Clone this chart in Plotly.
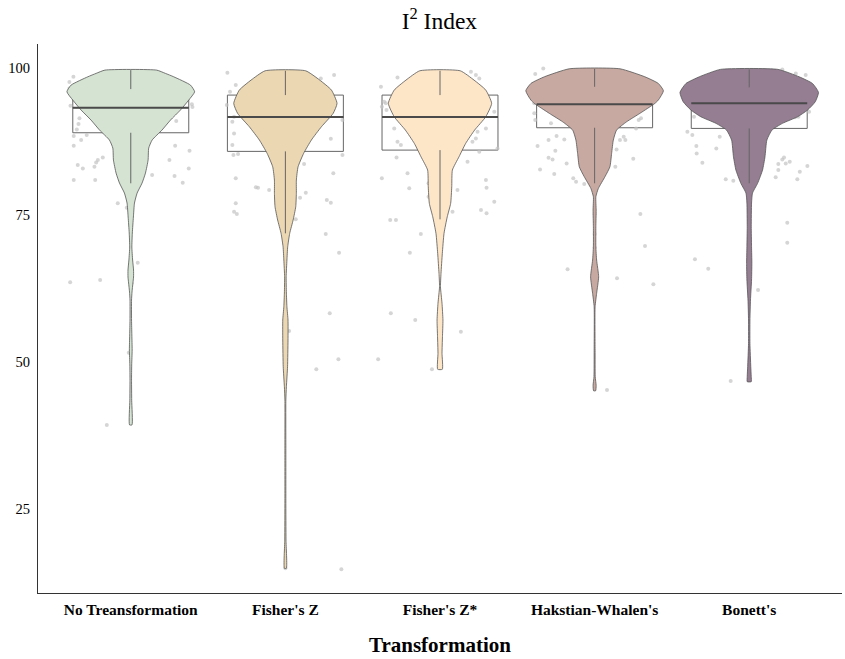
import plotly.graph_objects as go

# ---------------- data ----------------
categories = ["No Treansformation", "Fisher's Z", "Fisher's Z*", "Hakstian-Whalen's", "Bonett's"]

# violin density profile: value levels (top -> bottom) and half-width (category units)
lev_no = [99.66, 99.1, 98.52, 97.11, 95.97, 94.56, 92.86, 91.16, 89.46, 87.76, 86.39, 84.35,
          82.14, 80.44, 78.74, 77.04, 74.66, 71.94, 69.56, 67.35, 65.65, 64.46, 63.44, 61.9,
          60.54, 57.14, 54.6, 52.04, 49.5, 46.9, 43.5, 39.3]
hw_no = [0.167, 0.224, 0.278, 0.386, 0.413, 0.375, 0.321, 0.257, 0.202, 0.138, 0.116, 0.112,
         0.095, 0.073, 0.041, 0.024, 0.017, 0.010, 0.007, 0.012, 0.018, 0.018, 0.014, 0.008,
         0.005, 0.005, 0.007, 0.009, 0.006, 0.005, 0.006, 0.008]

lev_fz = [99.54, 97.96, 96.26, 94.0, 92.3, 90.02, 87.76, 85.49, 83.21, 80.95, 78.69, 76.41,
          74.15, 71.89, 69.61, 67.35, 64.5, 61.73, 59.4, 57.14, 53.74, 49.2, 45.8, 43.54,
          35.0, 26.5, 19.7, 14.9]
hw_fz = [0.131, 0.222, 0.298, 0.334, 0.309, 0.233, 0.168, 0.118, 0.082, 0.071, 0.071, 0.067,
         0.050, 0.028, 0.015, 0.010, 0.005, 0.0065, 0.010, 0.017, 0.017, 0.014, 0.0065, 0.003,
         0.003, 0.003, 0.004, 0.0065]

lev_fzs = [99.54, 97.96, 96.26, 94.0, 91.72, 89.46, 87.19, 84.92, 82.65, 79.81, 76.99, 74.71,
           71.89, 68.48, 65.08, 62.81, 59.99, 57.14, 54.31, 51.48, 48.76]
hw_fzs = [0.131, 0.220, 0.296, 0.334, 0.296, 0.224, 0.166, 0.123, 0.080, 0.076, 0.069, 0.047,
          0.026, 0.015, 0.0065, 0.003, 0.013, 0.019, 0.016, 0.013, 0.015]

lev_hw = [99.88, 98.52, 97.39, 96.14, 94.56, 94.0, 92.3, 90.87, 89.46, 87.76, 85.49, 83.21,
          81.52, 79.52, 78.11, 75.85, 73.01, 69.61, 67.35, 64.5, 61.67, 59.4, 52.0, 47.5, 46.0, 45.1]
hw_hw = [0.164, 0.325, 0.412, 0.445, 0.412, 0.390, 0.293, 0.207, 0.142, 0.121, 0.110, 0.099,
         0.067, 0.024, 0.008, 0.010, 0.008, 0.008, 0.013, 0.026, 0.013, 0.003, 0.003, 0.004,
         0.010, 0.0065]

lev_bo = [99.78, 98.52, 97.39, 95.86, 94.27, 92.86, 91.72, 90.6, 89.46, 87.76, 84.92, 82.65,
          80.39, 78.74, 77.04, 73.01, 69.61, 66.78, 63.95, 60.54, 57.14, 53.17, 49.2, 47.5, 46.65]
hw_bo = [0.186, 0.323, 0.409, 0.448, 0.427, 0.377, 0.313, 0.215, 0.147, 0.114, 0.102, 0.086,
         0.054, 0.021, 0.015, 0.013, 0.015, 0.017, 0.015, 0.008, 0.0045, 0.0045, 0.010, 0.013,
         0.013]

violin_levels = [lev_no, lev_fz, lev_fzs, lev_hw, lev_bo]
violin_halfwidths = [hw_no, hw_fz, hw_fzs, hw_hw, hw_bo]

# box plot statistics
box_q1 = [89.0, 85.83, 86.05, 89.85, 89.74]
box_median = [93.25, 91.67, 91.67, 93.83, 94.0]
box_q3 = [96.43, 95.41, 95.41, 96.82, 96.72]
whisker_low = [80.4, 71.89, 74.27, 80.4, 80.4]
whisker_high = [99.66, 99.54, 99.54, 99.88, 99.78]

# jittered observations (value, horizontal jitter in category units)
pts_val_no = [98.52, 97.62, 96.55, 93.59, 91.45, 90.48, 89.57, 88.44, 87.76, 88.61, 86.79, 84.35,
              83.96, 84.81, 83.5, 82.94, 83.21, 80.95, 80.95, 86.79, 85.94, 84.35, 82.94, 81.8,
              81.63, 80.49, 93.83, 93.37, 90.99, 76.99, 76.87, 76.41, 76.24, 63.55, 63.95, 66.89,
              51.58, 39.29, 64.8, 63.4]
pts_jit_no = [-0.371, -0.397, -0.397, -0.39, -0.332, -0.338, -0.349, -0.369, -0.321, -0.285, -0.369,
              -0.213, -0.224, -0.181, -0.343, -0.31, -0.235, -0.369, -0.23, 0.287, 0.38, 0.25, 0.375,
              0.138, 0.283, 0.336, 0.395, 0.399, 0.294, -0.084, -0.008, 0.003, -0.026, -0.392,
              -0.198, 0.045, -0.013, -0.155, 0.0, 0.005]

pts_val_fz = [99.2, 97.11, 95.97, 93.71, 91.72, 90.87, 88.89, 86.9, 85.37, 85.2, 81.24, 79.71,
              79.64, 79.25, 76.99, 75.56, 75.17, 83.67, 78.79, 77.94, 74.27, 77.55, 77.09, 71.77,
              68.59, 82.09, 85.2, 87.98, 98.81, 98.25, 91.16, 58.28, 50.46, 48.76, 55.44, 55.27,
              57.14, 52.04, 14.74, 14.9]
pts_jit_fz = [-0.375, -0.321, -0.358, -0.379, -0.332, -0.343, -0.332, -0.343, -0.306, -0.336,
              -0.321, -0.191, -0.177, -0.105, -0.321, -0.332, -0.314, 0.121, 0.132, 0.095, 0.067,
              0.268, 0.294, 0.261, 0.347, 0.31, 0.369, 0.294, 0.315, 0.229, 0.369, 0.287, 0.343,
              0.2, 0.003, 0.024, 0.0, 0.0, 0.362, 0.0]

pts_val_fzs = [98.42, 96.55, 95.02, 96.82, 94.27, 94.0, 93.42, 92.86, 89.74, 87.47, 86.9, 88.61,
               86.34, 84.81, 82.09, 81.24, 79.54, 80.39, 78.11, 74.15, 74.15, 71.77, 68.59, 58.28,
               57.14, 50.46, 48.76, 55.15, 99.37, 98.81, 98.25, 92.57, 89.74, 89.17, 88.04, 87.47,
               85.77, 84.06, 80.95, 79.64, 79.25, 77.26, 75.85, 75.29, 75.56, 86.34, 71.77, 58.28,
               56.58, 55.15, 50.34]
pts_jit_fzs = [-0.275, -0.139, -0.253, -0.382, -0.361, -0.35, -0.376, -0.346, -0.296, -0.275,
               -0.253, -0.156, -0.113, -0.281, -0.21, -0.376, -0.199, -0.074, -0.074, -0.322,
               -0.285, -0.124, -0.195, -0.318, -0.16, -0.4, -0.052, 0.135, 0.2, 0.232, 0.254,
               0.351, 0.297, 0.243, 0.232, 0.21, 0.254, 0.178, 0.297, 0.301, 0.113, 0.351, 0.265,
               0.301, 0.081, 0.372, 0.0, 0.0, 0.0, 0.0, 0.0]

pts_val_hw = [98.98, 99.95, 94.0, 92.3, 91.16, 90.6, 88.44, 87.87, 87.76, 85.94, 86.73, 84.74,
              84.47, 83.79, 82.77, 81.97, 81.24, 80.66, 80.27, 65.77, 64.23, 63.21, 75.17, 69.73,
              45.24, 84.59, 83.21, 86.17, 87.76, 87.76, 88.32, 89.74, 91.16, 91.45, 75.17, 71.77,
              69.5, 65.6, 64.2, 62.8]
pts_jit_hw = [-0.384, -0.332, -0.39, -0.39, -0.384, -0.282, -0.246, -0.196, -0.298, -0.254,
              -0.369, -0.298, -0.272, -0.181, -0.353, -0.261, -0.138, -0.12, -0.067, -0.175, 0.145,
              0.38, 0.296, 0.326, 0.08, 0.25, 0.134, 0.142, 0.164, 0.199, 0.188, 0.268, 0.285, 0.3,
              0.0, 0.0, 0.0, 0.0, 0.0, 0.0]

pts_val_bo = [89.17, 88.61, 86.73, 85.49, 83.89, 86.34, 88.32, 91.72, 81.07, 80.83, 67.47, 65.87,
              46.77, 62.24, 73.69, 70.29, 99.78, 99.1, 98.81, 92.57, 91.72, 91.62, 84.47, 84.81,
              83.67, 84.06, 83.79, 82.65, 83.33, 82.36, 81.07, 81.41, 74.6, 71.2, 68.4, 67.0]
pts_jit_bo = [-0.4, -0.368, -0.342, -0.34, -0.303, -0.213, -0.191, -0.357, -0.152, -0.103, -0.351,
              -0.265, -0.12, 0.057, 0.246, 0.246, 0.214, 0.301, 0.365, 0.387, 0.318, 0.296, 0.214,
              0.225, 0.188, 0.262, 0.236, 0.188, 0.376, 0.327, 0.311, 0.171, 0.0, 0.0, 0.0, 0.0]

point_values = [pts_val_no, pts_val_fz, pts_val_fzs, pts_val_hw, pts_val_bo]
point_jitter = [pts_jit_no, pts_jit_fz, pts_jit_fzs, pts_jit_hw, pts_jit_bo]

y_ticks = [25, 50, 75, 100]

# ---------------- styling ----------------
violin_colors = ["#d4e3d2", "#ebd7b2", "#fde5c8", "#c7a9a1", "#957d92"]
FONT = "Liberation Serif, Times New Roman, serif"
BOX_WIDTH = 0.75
GRAY = "#666666"

fig = go.Figure()

# jittered points (beneath the violins)
for i, (vals, jit) in enumerate(zip(point_values, point_jitter)):
    fig.add_trace(go.Scatter(
        x=[i + j for j in jit], y=vals, mode="markers",
        marker=dict(size=4.0, color="rgba(195,195,195,0.7)", line=dict(width=0)),
        hoverinfo="skip", showlegend=False))

# violins
for i, (lev, hw) in enumerate(zip(violin_levels, violin_halfwidths)):
    xs = [i + w for w in hw] + [i - w for w in reversed(hw)] + [i + hw[0]]
    ys = list(lev) + list(reversed(lev)) + [lev[0]]
    fig.add_trace(go.Scatter(
        x=xs, y=ys, mode="lines", fill="toself", fillcolor=violin_colors[i],
        line=dict(color="#555555", width=0.8, shape="spline", smoothing=0.5),
        hoverinfo="skip", showlegend=False))

# whiskers
for i in range(len(categories)):
    fig.add_trace(go.Scatter(
        x=[i, i, None, i, i], y=[box_q3[i], whisker_high[i], None, box_q1[i], whisker_low[i]],
        mode="lines", line=dict(color=GRAY, width=1), hoverinfo="skip", showlegend=False))

# boxes
fig.add_trace(go.Box(
    x=list(range(len(categories))), q1=box_q1, median=box_median, q3=box_q3,
    lowerfence=box_q1, upperfence=box_q3,
    width=BOX_WIDTH, whiskerwidth=0, fillcolor="rgba(255,255,255,0.3)",
    line=dict(color=GRAY, width=1), boxpoints=False, showlegend=False,
    hoverinfo="skip"))

# thicker median lines
for i, m in enumerate(box_median):
    fig.add_trace(go.Scatter(
        x=[i - BOX_WIDTH / 2, i + BOX_WIDTH / 2], y=[m, m], mode="lines",
        line=dict(color="#4a4a4a", width=2), hoverinfo="skip", showlegend=False))

fig.update_layout(
    width=845, height=659,
    margin=dict(l=38, r=3, t=44, b=66, autoexpand=False),
    paper_bgcolor="white", plot_bgcolor="white",
    font=dict(family=FONT, color="black"),
    title=dict(text="I<sup>2</sup> Index", x=0.52, xanchor="center", y=0.969, yanchor="middle",
               font=dict(size=23.5, family=FONT, color="black")),
    xaxis=dict(range=[-0.6, 4.6], tickvals=list(range(len(categories))), ticktext=categories,
               showline=True, linecolor="#333333", linewidth=1, showgrid=False, zeroline=False,
               ticks="", ticklabelstandoff=2, automargin=False,
               tickfont=dict(size=15.5, family=FONT, color="black", weight="bold")),
    yaxis=dict(range=[10.7, 104.1], tickvals=y_ticks, showline=True, linecolor="#333333",
               linewidth=1, showgrid=False, zeroline=False, ticks="", ticklabelstandoff=4,
               automargin=False, tickfont=dict(size=14.5, family=FONT, color="black")),
    annotations=[dict(text="Transformation", xref="paper", yref="paper", x=0.5, y=-0.0947,
                      xanchor="center", yanchor="middle", showarrow=False,
                      font=dict(size=21, family=FONT, color="black", weight="bold"))],
)

fig.write_html("out.html", config={"displayModeBar": False},
               post_script="document.body.style.margin='0';")
